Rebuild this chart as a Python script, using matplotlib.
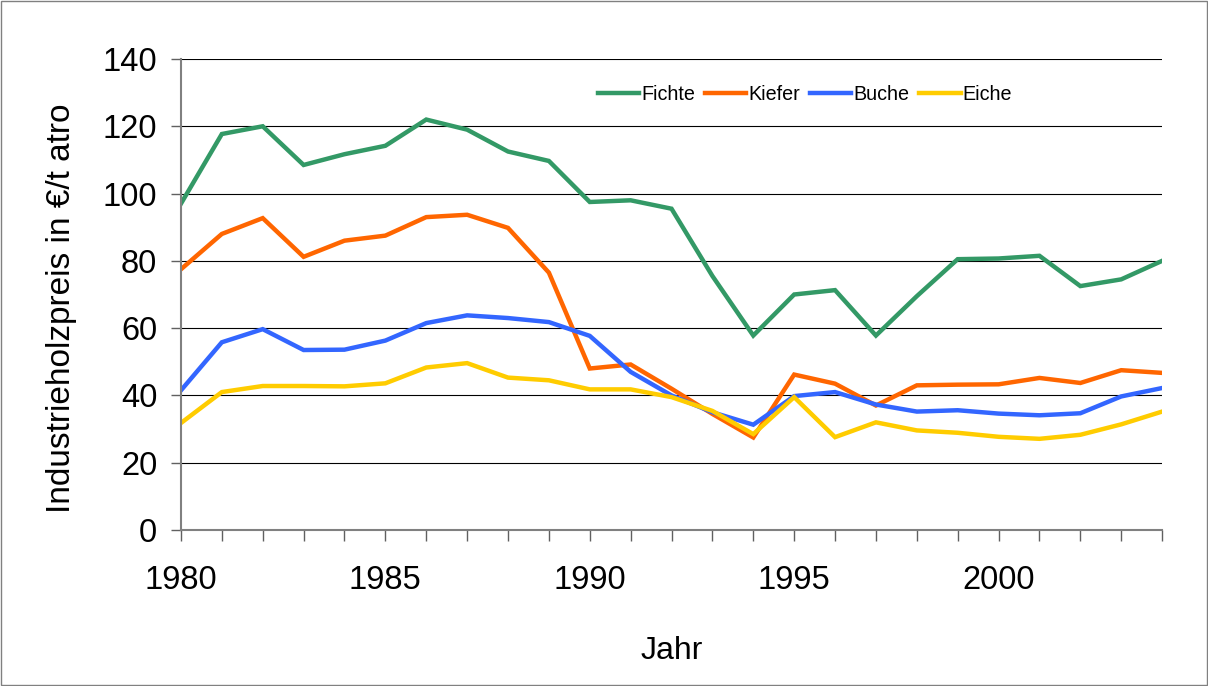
import matplotlib
matplotlib.use("Agg")
import matplotlib.pyplot as plt
from matplotlib.ticker import MultipleLocator

years = list(range(1980, 2005))
fichte = [97, 117.7, 120, 108.5, 111.7, 114.2, 122, 119, 112.5, 109.7, 97.5, 98, 95.5,
          75.5, 57.8, 70, 71.3, 57.8, 69.5, 80.5, 80.7, 81.5, 72.5, 74.5, 80]
kiefer = [77.5, 88, 92.7, 81.2, 86, 87.5, 93, 93.7, 89.8, 76.5, 48, 49.2, 42,
          34.5, 27.5, 46.2, 43.5, 37, 43, 43.2, 43.3, 45.2, 43.7, 47.5, 46.7]
buche = [41.5, 55.8, 59.7, 53.5, 53.6, 56.3, 61.5, 63.8, 63, 61.8, 57.7, 47, 40,
         35, 31.3, 39.8, 41, 37.3, 35.2, 35.6, 34.6, 34.1, 34.7, 39.7, 42.2]
eiche = [31.8, 41, 42.8, 42.8, 42.7, 43.6, 48.3, 49.6, 45.3, 44.5, 41.8, 41.8, 39.5,
         35.4, 28.5, 39.5, 27.6, 32, 29.6, 28.9, 27.7, 27.1, 28.3, 31.4, 35.2]

series = [("Fichte", fichte, "#339966"),
          ("Kiefer", kiefer, "#FF6600"),
          ("Buche", buche, "#3366FF"),
          ("Eiche", eiche, "#FFCC00")]

plt.rcParams["font.family"] = ["Liberation Sans", "DejaVu Sans"]

fig = plt.figure(figsize=(12.08, 6.86), dpi=100)
ax = fig.add_axes([0.1498, 0.2274, 0.8122, 0.6866])

for name, values, color in series:
    ax.plot(years, values, color=color, lw=3.2, label=name, solid_joinstyle="miter")

ax.set_xlim(1980, 2004)
ax.set_ylim(0, 140)
ax.yaxis.set_major_locator(MultipleLocator(20))
ax.xaxis.set_major_locator(MultipleLocator(5))
ax.xaxis.set_minor_locator(MultipleLocator(1))
ax.grid(axis="y", color="black", lw=0.8)
ax.set_axisbelow(True)

for side in ("top", "right"):
    ax.spines[side].set_visible(False)
for side in ("left", "bottom"):
    ax.spines[side].set_color("#808080")
    ax.spines[side].set_linewidth(1.5)

ax.tick_params(axis="both", which="both", colors="#606060", labelcolor="black",
               labelsize=23.5, width=1)
ax.tick_params(axis="x", which="both", length=8, pad=17)
ax.tick_params(axis="y", length=7, pad=10)

ax.set_xlabel("Jahr", fontsize=23, labelpad=29)
# y label placed by hand, it sits a bit below the axes centre in the original
fig.text(62 / 1208, 1 - 308 / 686, "Industrieholzpreis in €/t atro", fontsize=24,
         rotation=90, ha="center", va="center")

ax.legend(loc="center", bbox_to_anchor=(0.636, 0.925), ncol=4, frameon=False,
          fontsize=14.2, handlelength=2.1, handletextpad=0.1, columnspacing=0.5)

fig.patches.append(plt.Rectangle((0.001, 0.001), 0.998, 0.998, transform=fig.transFigure,
                                 fill=False, edgecolor="#808080", lw=1))

fig.savefig("out.png", dpi=100)
